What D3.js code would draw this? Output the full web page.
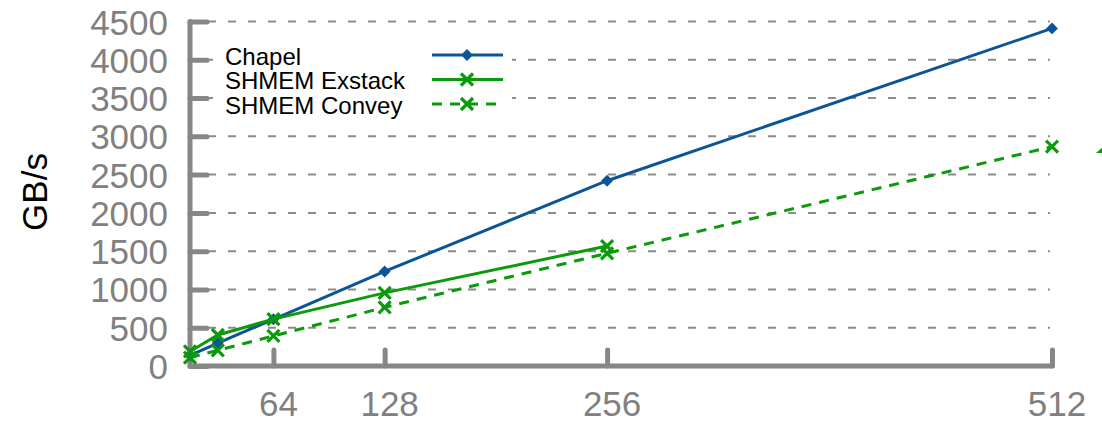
<!DOCTYPE html>
<html>
<head>
<meta charset="utf-8">
<script src="https://cdn.jsdelivr.net/npm/d3@7"></script>
<style>
  html, body { margin: 0; padding: 0; background: #fff; }
  svg { display: block; }
  text { font-family: "Liberation Sans", Arial, Helvetica, sans-serif; }
</style>
</head>
<body>
<svg id="chart" width="1102" height="423"></svg>
<script>
// Number of processing elements on the x axis
const nodes = [16, 32, 64, 128, 256, 512];
const xTickValues = [64, 128, 256, 512];
const yTickValues = [0, 500, 1000, 1500, 2000, 2500, 3000, 3500, 4000, 4500];

// Aggregate bandwidth, GB/s
const chapel = [140, 300, 610, 1235, 2420, 4410];
const shmemExstack = [190, 405, 612, 955, 1567];
const shmemConvey = [110, 205, 392, 766, 1472, 2865];

const seriesNames = ["Chapel", "SHMEM Exstack", "SHMEM Convey"];

const blue = "#0b5597";
const green = "#0b9a0b";
const axisGray = "#878787";

const svg = d3.select("#chart");

const x = d3.scaleLinear().domain([16, 512]).range([190, 1052]);
const y = d3.scaleLinear().domain([0, 4500]).range([366, 21.5]);

// Dashed horizontal grid
svg.append("g")
  .selectAll("line")
  .data(yTickValues.filter(d => d > 0))
  .join("line")
  .attr("x1", x(16) + 18)
  .attr("x2", x(512) - 2)
  .attr("y1", d => y(d))
  .attr("y2", d => y(d))
  .attr("stroke", "#8c8c8c")
  .attr("stroke-width", 2)
  .attr("stroke-dasharray", "8,12");

// Y axis with inward ticks
const yAxis = svg.append("g")
  .attr("transform", `translate(${x(16)},0)`)
  .call(d3.axisRight(y).tickValues(yTickValues).tickSize(17).tickFormat(""));
yAxis.select(".domain").remove();
yAxis.selectAll(".tick line")
  .attr("stroke", axisGray).attr("stroke-width", 5).attr("stroke-linecap", "round");

// X axis with inward ticks
const xAxis = svg.append("g")
  .attr("transform", `translate(0,${y(0)})`)
  .call(d3.axisTop(x).tickValues(xTickValues).tickSize(16).tickFormat(""));
xAxis.select(".domain").remove();
xAxis.selectAll(".tick line")
  .attr("stroke", axisGray).attr("stroke-width", 5).attr("stroke-linecap", "round");

// Axis frame (left and bottom)
svg.append("path")
  .attr("d", `M${x(16)},${y(4500)}V${y(0)}H${x(512)}`)
  .attr("fill", "none")
  .attr("stroke", axisGray)
  .attr("stroke-width", 5)
  .attr("stroke-linecap", "round")
  .attr("stroke-linejoin", "round");

// Tick labels
svg.append("g")
  .selectAll("text")
  .data(yTickValues)
  .join("text")
  .attr("x", x(16) - 22)
  .attr("y", d => y(d) + 13)
  .attr("text-anchor", "end")
  .attr("font-size", 35)
  .attr("fill", "#808080")
  .text(d => d);

svg.append("g")
  .selectAll("text")
  .data(xTickValues)
  .join("text")
  .attr("x", d => x(d) + 5)
  .attr("y", 416)
  .attr("text-anchor", "middle")
  .attr("font-size", 35)
  .attr("fill", "#808080")
  .text(d => d);

// Y axis title
svg.append("text")
  .attr("transform", "translate(47,192) rotate(-90)")
  .attr("text-anchor", "middle")
  .attr("font-size", 35)
  .attr("fill", "#000")
  .text("GB/s");

// Legend (white box hides the grid beneath it)
const legend = svg.append("g");
legend.append("rect")
  .attr("x", 213).attr("y", 36).attr("width", 299).attr("height", 82)
  .attr("fill", "#fff");

const series = [
  { name: seriesNames[0], values: chapel, color: blue, dash: null, marker: "diamond" },
  { name: seriesNames[1], values: shmemExstack, color: green, dash: null, marker: "cross" },
  { name: seriesNames[2], values: shmemConvey, color: green, dash: "10,8", marker: "cross" }
];

function drawMarker(g, type, color) {
  if (type === "diamond") {
    g.append("path")
      .attr("d", d3.symbol(d3.symbolDiamond2, 90)())
      .attr("fill", color);
  } else {
    g.append("path")
      .attr("d", "M-6,-6L6,6M-6,6L6,-6")
      .attr("stroke", color)
      .attr("stroke-width", 3.2)
      .attr("fill", "none");
  }
}

// Series lines and markers
const line = d3.line().x(d => x(d[0])).y(d => y(d[1]));
series.forEach(s => {
  const pts = s.values.map((v, i) => [nodes[i], v]);
  svg.append("path")
    .datum(pts)
    .attr("d", line)
    .attr("fill", "none")
    .attr("stroke", s.color)
    .attr("stroke-width", 3)
    .attr("stroke-dasharray", s.dash);
  pts.forEach(p => {
    const g = svg.append("g").attr("transform", `translate(${x(p[0])},${y(p[1])})`);
    drawMarker(g, s.marker, s.color);
  });
});

// Legend entries
series.forEach((s, i) => {
  const cy = 55 + i * 24.5;
  legend.append("text")
    .attr("x", 225).attr("y", cy + 9.5)
    .attr("font-size", 24)
    .attr("fill", "#000")
    .text(s.name);
  legend.append("line")
    .attr("x1", 432).attr("x2", 503)
    .attr("y1", cy).attr("y2", cy)
    .attr("stroke", s.color)
    .attr("stroke-width", 3)
    .attr("stroke-dasharray", s.dash);
  const g = legend.append("g").attr("transform", `translate(467,${cy})`);
  drawMarker(g, s.marker, s.color);
});

// Edge of a neighbouring green mark, cut by the right border
svg.append("path")
  .attr("d", "M1096,153L1104,146L1104,153Z")
  .attr("fill", green);
</script>
</body>
</html>
